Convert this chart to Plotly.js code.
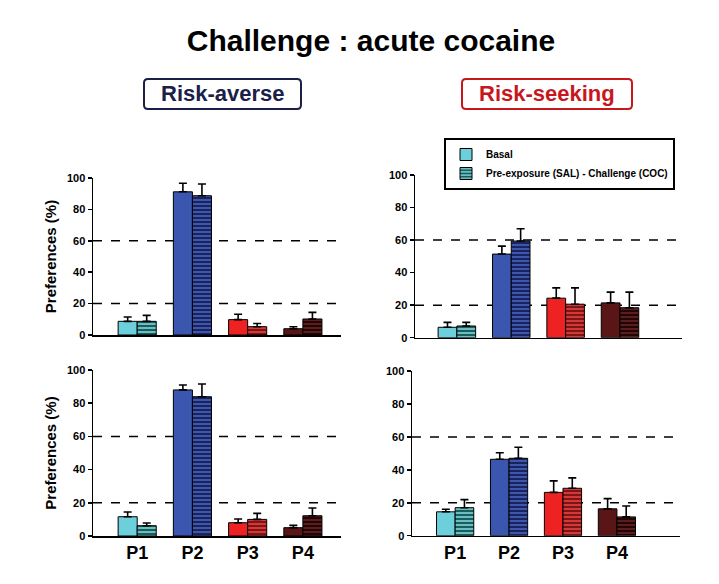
<!DOCTYPE html>
<html>
<head>
<meta charset="utf-8">
<script src="https://cdn.plot.ly/plotly-3.0.1.min.js"></script>
<style>html,body{margin:0;padding:0;background:#fff;}#chart{width:719px;height:584px;}</style>
</head>
<body>
<div id="chart"></div>
<script>
// ---- data ----
var categories = ['P1', 'P2', 'P3', 'P4'];

// Risk-averse, top row
var avBasalTop = [8.7, 91.2, 9.8, 4.0];
var avBasalTopErr = [2.8, 5.5, 3.4, 1.3];
var avCocTop = [8.7, 88.7, 5.3, 10.2];
var avCocTopErr = [3.8, 7.5, 2.0, 4.2];

// Risk-seeking, top row
var skBasalTop = [6.4, 51.4, 24.3, 21.4];
var skBasalTopErr = [3.0, 4.9, 6.3, 6.6];
var skCocTop = [7.2, 59.4, 20.6, 18.4];
var skCocTopErr = [2.2, 7.6, 10.0, 9.6];

// Risk-averse, bottom row
var avBasalBot = [11.6, 88.0, 8.0, 5.0];
var avBasalBotErr = [2.9, 3.0, 2.2, 1.4];
var avCocBot = [6.2, 83.9, 10.0, 12.2];
var avCocBotErr = [1.6, 7.7, 3.6, 4.7];

// Risk-seeking, bottom row
var skBasalBot = [14.5, 46.4, 26.3, 16.3];
var skBasalBotErr = [1.6, 4.0, 7.0, 6.2];
var skCocBot = [17.0, 47.0, 28.8, 11.4];
var skCocBotErr = [4.9, 6.7, 6.3, 6.6];

var yTicks = [0, 20, 40, 60, 80, 100];
var refLines = [20, 60];

// ---- styles ----
var basalColors = ['#6dcfdc', '#3b56ae', '#ee2222', '#5a1616'];
var cocBg = ['#1a5e5c', '#18245e', '#7e1414', '#220606'];
var cocFg = ['#7fd6dc', '#4a62c0', '#e84444', '#6a2222'];
var FONT = '"Liberation Sans", Arial, Helvetica, sans-serif';
var COC_NAME = 'Pre-exposure (SAL) - Challenge (COC)';

function errObj(arr) {
  return {type: 'data', array: arr, arrayminus: arr.map(function(){return 0;}), symmetric: false,
          color: '#000', thickness: 1.6, width: 4, visible: true};
}
function basal(y, err, xa, ya, show) {
  return {type: 'bar', x: categories, y: y, xaxis: xa, yaxis: ya, name: 'Basal',
    offsetgroup: 'basal', showlegend: show, legendrank: 1, cliponaxis: false,
    marker: {color: basalColors, line: {color: '#000', width: 1}},
    error_y: errObj(err)};
}
// one trace per category so each striped bar can have its own stripe/background colours
function coc(y, err, xa, ya, show) {
  return categories.map(function(cat, i) {
    return {type: 'bar', x: [cat], y: [y[i]], xaxis: xa, yaxis: ya, name: COC_NAME,
      offsetgroup: 'coc', legendgroup: 'coc', showlegend: show && i === 0, legendrank: 2, cliponaxis: false,
      marker: {color: cocBg[i], line: {color: '#000', width: 1},
        pattern: {shape: '-', fillmode: 'replace', bgcolor: cocBg[i], fgcolor: cocFg[i], fgopacity: 1,
                  size: 4, solidity: 0.4}},
      error_y: errObj([err[i]])};
  });
}

var data = [].concat(
  [basal(avBasalTop, avBasalTopErr, 'x', 'y', false)], coc(avCocTop, avCocTopErr, 'x', 'y', false),
  [basal(skBasalTop, skBasalTopErr, 'x2', 'y2', true)], coc(skCocTop, skCocTopErr, 'x2', 'y2', true),
  [basal(avBasalBot, avBasalBotErr, 'x3', 'y3', false)], coc(avCocBot, avCocBotErr, 'x3', 'y3', false),
  [basal(skBasalBot, skBasalBotErr, 'x4', 'y4', false)], coc(skCocBot, skCocBotErr, 'x4', 'y4', false)
);

var W = 719, H = 584;
function px(x0, x1) { return [x0 / W, x1 / W]; }
function py(yBottom, yTop) { return [(H - yBottom) / H, (H - yTop) / H]; }

function xAxis(dom, anchor, range, showLabels) {
  return {domain: dom, anchor: anchor, range: range, type: 'category', categoryarray: categories,
    categoryorder: 'array', showline: true, linecolor: '#000',
    linewidth: 1.5, ticks: '', showgrid: false, zeroline: false, showticklabels: showLabels, fixedrange: true,
    tickfont: {family: FONT, size: 18, color: '#000', weight: 'bold'}};
}
function yAxis(dom, anchor, title) {
  var a = {domain: dom, anchor: anchor, range: [0, 100], tickvals: yTicks, ticks: 'outside', ticklen: 4,
    tickwidth: 1.5, tickcolor: '#000', showline: true, linecolor: '#000', linewidth: 1.5,
    showgrid: false, zeroline: false, fixedrange: true,
    tickfont: {family: FONT, size: 11, color: '#000', weight: 'bold'}};
  if (title) a.title = {text: title, standoff: 6, font: {family: FONT, size: 15, color: '#000', weight: 'bold'}};
  return a;
}

var shapes = [];
[['x', 'y'], ['x2', 'y2'], ['x3', 'y3'], ['x4', 'y4']].forEach(function(p) {
  refLines.forEach(function(v) {
    shapes.push({type: 'line', xref: p[0] + ' domain', yref: p[1], x0: 0, x1: 1, y0: v, y1: v,
      line: {color: '#000', width: 1.5, dash: 'dash'}, layer: 'below'});
  });
});
// rounded boxes round the group labels (pixel box -> paper path)
function roundBox(x0, y0, x1, y1, r, color) {
  function X(v) { return (v / W).toFixed(5); }
  function Y(v) { return ((H - v) / H).toFixed(5); }
  var d = 'M' + X(x0 + r) + ',' + Y(y0) + ' L' + X(x1 - r) + ',' + Y(y0) +
    ' Q' + X(x1) + ',' + Y(y0) + ' ' + X(x1) + ',' + Y(y0 + r) +
    ' L' + X(x1) + ',' + Y(y1 - r) + ' Q' + X(x1) + ',' + Y(y1) + ' ' + X(x1 - r) + ',' + Y(y1) +
    ' L' + X(x0 + r) + ',' + Y(y1) + ' Q' + X(x0) + ',' + Y(y1) + ' ' + X(x0) + ',' + Y(y1 - r) +
    ' L' + X(x0) + ',' + Y(y0 + r) + ' Q' + X(x0) + ',' + Y(y0) + ' ' + X(x0 + r) + ',' + Y(y0) + ' Z';
  return {type: 'path', xref: 'paper', yref: 'paper', path: d, line: {color: color, width: 2}, layer: 'above'};
}
shapes.push(roundBox(144, 79, 301, 109, 4, '#1b2048'));
shapes.push(roundBox(462, 79, 632, 109, 4, '#c8161d'));

var layout = {
  width: W, height: H, margin: {l: 0, r: 0, t: 0, b: 0},
  paper_bgcolor: '#fff', plot_bgcolor: 'rgba(0,0,0,0)',
  barmode: 'group', bargap: 0.31, bargroupgap: 0,
  font: {family: FONT, color: '#000'},
  title: {text: 'Challenge : acute cocaine', x: 371 / W, xanchor: 'center', y: (H - 40) / H, yanchor: 'middle',
    font: {family: FONT, size: 30, color: '#000', weight: 'bold'}},
  xaxis: xAxis(px(93, 341), 'y', [-0.8, 3.69], false),
  yaxis: yAxis(py(335, 178), 'x', 'Preferences (%)'),
  xaxis2: xAxis(px(415, 682), 'y2', [-0.77, 4.14], false),
  yaxis2: yAxis(py(337.7, 175), 'x2', null),
  xaxis3: xAxis(px(93, 341), 'y3', [-0.8, 3.69], true),
  yaxis3: yAxis(py(536, 370), 'x3', 'Preferences (%)'),
  xaxis4: xAxis(px(412, 680), 'y4', [-0.8, 4.17], true),
  yaxis4: yAxis(py(535.7, 371), 'x4', null),
  shapes: shapes,
  legend: {x: 444 / W, y: (H - 138) / H, xanchor: 'left', yanchor: 'top', bgcolor: '#fff',
    bordercolor: '#000', borderwidth: 2, traceorder: 'normal', itemclick: false,
    font: {family: FONT, size: 10, color: '#000', weight: 'bold'}},
  annotations: [
    {text: 'Risk-averse', xref: 'paper', yref: 'paper', x: 222.5 / W, y: (H - 94) / H,
      xanchor: 'center', yanchor: 'middle', showarrow: false,
      font: {family: FONT, size: 22, color: '#1b2048', weight: 'bold'}},
    {text: 'Risk-seeking', xref: 'paper', yref: 'paper', x: 547 / W, y: (H - 94) / H,
      xanchor: 'center', yanchor: 'middle', showarrow: false,
      font: {family: FONT, size: 22, color: '#c8161d', weight: 'bold'}}
  ]
};

Plotly.newPlot('chart', data, layout, {displayModeBar: false, staticPlot: true});
</script>
</body>
</html>
